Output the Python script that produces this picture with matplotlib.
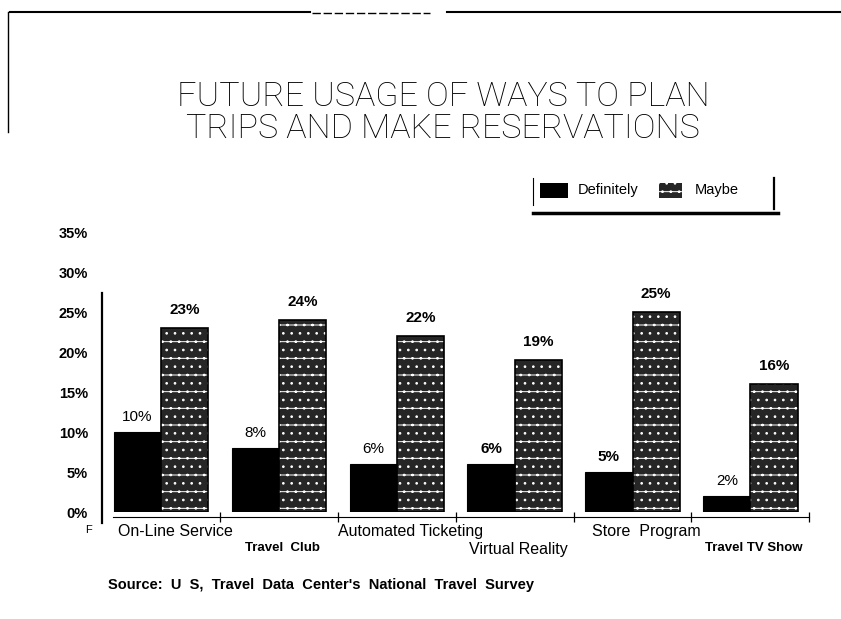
import matplotlib.pyplot as plt
from matplotlib.patches import Rectangle
from matplotlib.lines import Line2D
import numpy as np

plt.rcParams['font.family'] = ['Liberation Sans', 'DejaVu Sans']
plt.rcParams['hatch.linewidth'] = 0.7

categories = ['On-Line Service', 'Travel  Club', 'Automated Ticketing',
              'Virtual Reality', 'Store  Program', 'Travel TV Show']
definitely = [10, 8, 6, 6, 5, 2]
maybe = [23, 24, 22, 19, 25, 16]
ytick_vals = [0, 5, 10, 15, 20, 25, 30, 35]
ytick_labels = ['0%', '5%', '10%', '15%', '20%', '25%', '30%', '35%']
# which value labels print in bold
def_bold = [False, False, False, True, True, False]
may_bold = [True, True, True, True, True, True]

W, H = 841, 619
fig = plt.figure(figsize=(W / 100, H / 100), dpi=100)

def fx(x):
    return x / W

def fy(y):
    return 1 - y / H

# axes: 0% at y=512px, 35% at y=232px
ax = fig.add_axes([fx(102), fy(512), fx(820) - fx(102), (512 - 232) / H])
ax.set_ylim(0, 35)
ax.set_xlim(-0.5, 5.59)
for s in ax.spines.values():
    s.set_visible(False)

x = np.arange(len(categories))
bw = 0.4

ax.bar(x - bw / 2, definitely, width=bw, color='black', edgecolor='black', linewidth=0.8)
ax.bar(x + bw / 2, maybe, width=bw, color='#262626', edgecolor='white',
       hatch='-..', linewidth=0)
ax.bar(x + bw / 2, maybe, width=bw, fill=False, edgecolor='black', linewidth=1.2)

for i in range(len(x)):
    ax.annotate(f'{definitely[i]}%', (x[i] - bw / 2, definitely[i]), xytext=(0, 6),
                textcoords='offset points', ha='center', va='bottom', fontsize=11,
                fontweight='bold' if def_bold[i] else 'normal')
    ax.annotate(f'{maybe[i]}%', (x[i] + bw / 2, maybe[i]), xytext=(0, 8),
                textcoords='offset points', ha='center', va='bottom', fontsize=11,
                fontweight='bold' if may_bold[i] else 'normal')

ax.set_yticks(ytick_vals)
ax.set_yticklabels(ytick_labels, fontweight='bold', fontsize=10.5)
ax.tick_params(axis='y', length=0, pad=10)
ax.set_xticks([])

# left axis line and broken baseline with boundary ticks
ax.plot([-0.5, -0.5], [-1.4, 27.4], color='black', lw=1.6, clip_on=False)
ax.plot([-0.41, x[-1] + 0.5], [-0.6, -0.6], color='black', lw=0.8, clip_on=False)
ax.plot(x + 0.5, [-0.6] * len(x), ls='none', marker='|', ms=7, mew=0.9,
        color='black', clip_on=False)

# category labels, alternating rows
for i, c in enumerate(categories):
    if i % 2 == 0:
        ax.text(x[i] + 0.12, -1.5, c, ha='center', va='top', fontsize=11.5,
                clip_on=False)
    else:
        bold = c.startswith('Travel')
        ax.text(x[i] + 0.03, -3.7, c, ha='center', va='top',
                fontsize=9.5 if bold else 11.5,
                fontweight='bold' if bold else 'normal', clip_on=False)
fig.text(fx(88), fy(530), 'F', fontsize=8, ha='center', va='center')

# title
fig.text(fx(443), fy(97), 'FUTURE USAGE OF WAYS TO PLAN', ha='center', va='center',
         fontsize=24.5, family='Roboto', fontweight='light')
fig.text(fx(443), fy(129), 'TRIPS AND MAKE RESERVATIONS', ha='center', va='center',
         fontsize=24.5, family='Roboto', fontweight='light')

# legend
fig.add_artist(Rectangle((fx(540), fy(198)), fx(568) - fx(540), (198 - 183) / H,
                         facecolor='black', transform=fig.transFigure))
fig.add_artist(Rectangle((fx(659), fy(198)), fx(682) - fx(659), (198 - 183) / H,
                         facecolor='#262626', edgecolor='white', hatch='-..',
                         linewidth=0, transform=fig.transFigure))
fig.text(fx(578), fy(190), 'Definitely', fontsize=10.5, va='center')
fig.text(fx(695), fy(190), 'Maybe', fontsize=10.5, va='center')
fig.add_artist(Line2D([fx(533), fx(533)], [fy(178), fy(205)], color='black', lw=0.8))
fig.add_artist(Line2D([fx(774), fx(774)], [fy(178), fy(209)], color='black', lw=1.6))
fig.add_artist(Line2D([fx(533), fx(778)], [fy(213), fy(213)], color='black', lw=2.5))

# page frame lines
fig.add_artist(Line2D([fx(10), fx(310)], [fy(12), fy(12)], color='black', lw=1.5))
fig.add_artist(Line2D([fx(312), fx(430)], [fy(13), fy(13)], color='black', lw=1.0,
                      ls=(0, (6, 2))))
fig.add_artist(Line2D([fx(447), fx(841)], [fy(12), fy(12)], color='black', lw=1.5))
fig.add_artist(Line2D([fx(8), fx(8)], [fy(12), fy(132)], color='black', lw=1.0))

fig.text(fx(108), fy(585), "Source:  U  S,  Travel  Data  Center's  National  Travel  Survey",
         fontsize=10.5, fontweight='bold', va='center')

fig.savefig('out.png', dpi=100)
